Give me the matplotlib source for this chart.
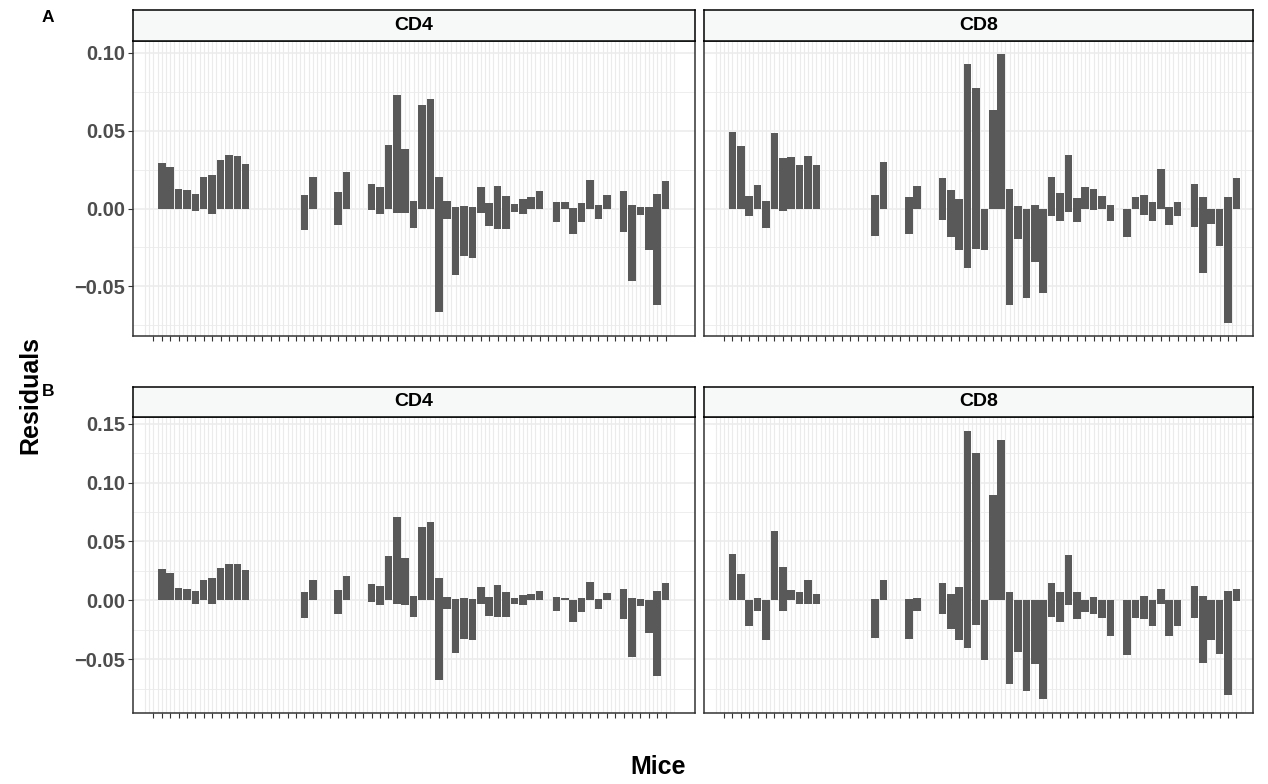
import matplotlib
matplotlib.use("Agg")
import matplotlib.pyplot as plt
import numpy as np

# ---------------- data (index = mouse position 1..62) ----------------
mice = list(range(1, 63))

A_CD4_pos = [0, .0291, .0266, .0124, .0118, .0092, .0201, .0214, .0311, .0343, .0336, .0285,
             0, 0, 0, 0, 0, 0, .0086, .0201, 0, 0, .0105, .0234, 0, 0,
             .0156, .0137, .0407, .0728, .0381, .0047, .0664, .0703, .0201, .0047, .0011,
             .0017, .0011, .0137, .0034, .0144, .0079, .0028, .0060, .0073, .0111, 0,
             .0041, .0041, .0004, .0034, .0182, .0021, .0086, 0,
             .0111, .0021, .0011, .0011, .0092, .0176]
A_CD4_neg = [0, 0, 0, 0, -.0004, -.0015, 0, -.0032, 0, 0, 0, 0,
             0, 0, 0, 0, 0, 0, -.0137, 0, 0, 0, -.0103, 0, 0, 0,
             -.0009, -.0032, 0, -.0028, -.0028, -.0124, 0, -.0004, -.0664, -.0069, -.0428,
             -.0304, -.0317, -.0028, -.0111, -.0131, -.0131, -.0024, -.0034, 0, 0, 0,
             -.0086, 0, -.0163, -.0086, 0, -.0066, 0, 0,
             -.0150, -.0465, -.0039, -.0266, -.0619, 0]

A_CD8_pos = [0, .0491, .0401, .0079, .0150, .0047, .0484, .0323, .0330, .0278, .0336, .0278,
             0, 0, 0, 0, 0, 0, .0086, .0298, 0, 0, .0073, .0144, 0, 0,
             .0195, .0118, .0060, .0928, .0771, 0, .0632, .0992, .0124, .0015, 0,
             .0021, 0, .0201, .0099, .0343, .0066, .0137, .0124, .0079, .0021, 0,
             0, .0073, .0086, .0041, .0253, .0009, .0041, 0,
             .0156, .0073, 0, 0, .0073, .0195]
A_CD8_neg = [0, 0, -.0004, -.0047, 0, -.0124, 0, -.0015, 0, 0, 0, 0,
             0, 0, 0, 0, 0, 0, -.0176, 0, 0, 0, -.0163, 0, 0, 0,
             -.0073, -.0182, -.0266, -.0381, -.0259, -.0266, 0, 0, -.0619, -.0195, -.0574,
             -.0343, -.0542, -.0047, -.0079, -.0021, -.0086, 0, -.0009, 0, -.0079, 0,
             -.0182, 0, -.0041, -.0079, 0, -.0105, -.0047, 0,
             -.0118, -.0413, -.0099, -.0240, -.0735, 0]

B_CD4_pos = [0, .0269, .0235, .0108, .0099, .0082, .0176, .0193, .0277, .0311, .0311, .0260,
             0, 0, 0, 0, 0, 0, .0074, .0176, 0, 0, .0091, .0210, 0, 0,
             .0142, .0125, .0379, .0711, .0362, .0040, .0626, .0668, .0193, .0031, .0008,
             .0017, .0008, .0116, .0025, .0133, .0074, .0017, .0048, .0057, .0082, 0,
             .0031, .0017, 0, .0023, .0159, .0008, .0065, 0,
             .0099, .0017, .0008, 0, .0082, .0150]
B_CD4_neg = [0, 0, 0, 0, 0, -.0034, 0, -.0034, 0, 0, 0, 0,
             0, 0, 0, 0, 0, 0, -.0153, 0, 0, 0, -.0119, 0, 0, 0,
             -.0017, -.0042, 0, -.0034, -.0042, -.0144, 0, 0, -.0680, -.0076, -.0450,
             -.0331, -.0340, -.0034, -.0136, -.0144, -.0144, -.0034, -.0042, 0, 0, 0,
             -.0093, 0, -.0187, -.0102, 0, -.0076, 0, 0,
             -.0161, -.0484, -.0051, -.0280, -.0646, 0]

B_CD8_pos = [0, .0396, .0226, .0006, .0020, .0006, .0592, .0286, .0091, .0074, .0176, .0057,
             0, 0, 0, 0, 0, 0, .0014, .0176, 0, 0, .0014, .0023, 0, 0,
             .0150, .0057, .0116, .1441, .1249, 0, .0895, .1365, .0074, 0, 0,
             0, 0, .0150, .0068, .0388, .0068, 0, .0031, 0, 0, 0,
             0, 0, .0040, 0, .0099, 0, 0, 0,
             .0125, .0040, 0, 0, .0082, .0099]
B_CD8_neg = [0, 0, 0, -.0221, -.0093, -.0340, 0, -.0093, 0, -.0034, -.0034, -.0034,
             0, 0, 0, 0, 0, 0, -.0323, 0, 0, 0, -.0331, -.0093, 0, 0,
             -.0119, -.0246, -.0340, -.0408, -.0212, -.0510, 0, 0, -.0713, -.0442, -.0773,
             -.0544, -.0841, -.0144, -.0187, -.0042, -.0161, -.0102, -.0119, -.0153, -.0306, 0,
             -.0467, -.0153, -.0161, -.0221, -.0034, -.0306, -.0221, 0,
             -.0153, -.0535, -.0340, -.0459, -.0807, -.0008]

strip_labels = ["CD4", "CD8"]
row_labels = ["A", "B"]
A_yticks = [-0.05, 0.00, 0.05, 0.10]
B_yticks = [-0.05, 0.00, 0.05, 0.10, 0.15]

# ---------------- layout ----------------
W, H = 1268, 784
fig = plt.figure(figsize=(W / 100, H / 100), dpi=100)
plt.rcParams['font.family'] = ['Liberation Sans', 'DejaVu Sans']

BAR = '#595959'
GRID = '#EBEBEB'
BORDER = '#333333'
TXT = '#4D4D4D'


def frac(x0, y0, x1, y1):
    return [x0 / W, 1 - y1 / H, (x1 - x0) / W, (y1 - y0) / H]


cols = [(133, 695, -1.42, 65.5), (704, 1253, -1.38, 63.98)]
rows = [
    dict(top=41, bot=336, stop=10, ylim=(-0.0818, 0.1075), ticks=A_yticks,
         minor=[-0.075, -0.025, 0.025, 0.075], data=[(A_CD4_pos, A_CD4_neg), (A_CD8_pos, A_CD8_neg)]),
    dict(top=417, bot=713, stop=387, ylim=(-0.0957, 0.1557), ticks=B_yticks,
         minor=[-0.075, -0.025, 0.025, 0.075, 0.125], data=[(B_CD4_pos, B_CD4_neg), (B_CD8_pos, B_CD8_neg)]),
]

for r, row in enumerate(rows):
    for c, (x0, x1, xl, xr) in enumerate(cols):
        ax = fig.add_axes(frac(x0, row['top'], x1, row['bot']))
        ax.set_facecolor('white')
        ax.set_xlim(xl, xr)
        ax.set_ylim(*row['ylim'])
        # grid
        for gx in np.arange(0, 63.01, 0.5):
            ax.axvline(gx, color=GRID, lw=0.8, zorder=0)
        for gy in row['ticks']:
            ax.axhline(gy, color=GRID, lw=1.1, zorder=0)
        for gy in row['minor']:
            ax.axhline(gy, color=GRID, lw=0.6, zorder=0)
        pos, neg = row['data'][c]
        ax.bar(mice, pos, width=0.9, color=BAR, linewidth=0, zorder=2)
        ax.bar(mice, neg, width=0.9, color=BAR, linewidth=0, zorder=2)
        ax.set_xticks(mice)
        ax.set_xticklabels([])
        ax.tick_params(axis='x', length=3.5, width=0.8, color=BORDER)
        ax.set_yticks(row['ticks'])
        if c == 0:
            ax.set_yticklabels([f"{t:.2f}".replace('-', '\u2212') for t in row['ticks']],
                               fontsize=14.5, fontweight='bold', color=TXT)
            ax.tick_params(axis='y', length=3.5, width=0.8, color=BORDER, pad=2)
        else:
            ax.tick_params(axis='y', length=0, labelleft=False)
        for s in ax.spines.values():
            s.set_color(BORDER)
            s.set_linewidth(1.1)
        # strip
        sax = fig.add_axes(frac(x0, row['stop'], x1, row['top']))
        sax.set_facecolor('#F7F9F9')
        sax.set_xticks([])
        sax.set_yticks([])
        for s in sax.spines.values():
            s.set_color('black')
            s.set_linewidth(1.1)
        sax.text(0.5, 0.5, strip_labels[c], ha='center', va='center', fontsize=14,
                 fontweight='bold', color='black', transform=sax.transAxes)
    fig.text(48 / W, 1 - (17 if r == 0 else 392) / H, row_labels[r], ha='center', va='center',
             fontsize=12.5, fontweight='bold')

fig.text(30 / W, 1 - 395 / H, "Residuals", rotation=90, ha='center', va='center',
         fontsize=18, fontweight='bold')
fig.text(658 / W, 1 - 767 / H, "Mice", ha='center', va='center', fontsize=18, fontweight='bold')

fig.savefig("out.png", dpi=100)
